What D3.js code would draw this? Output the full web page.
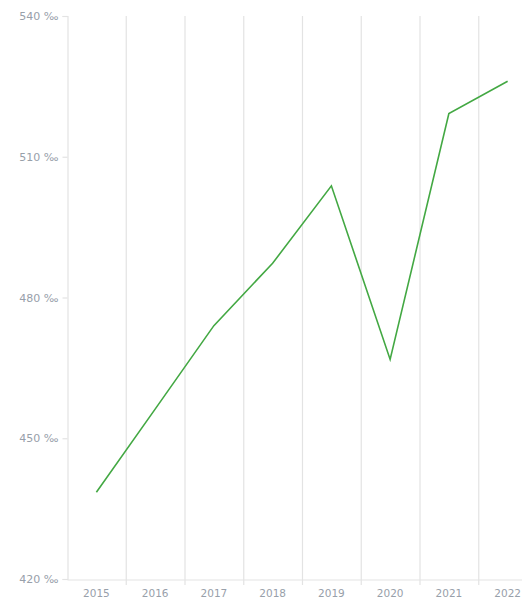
<!DOCTYPE html>
<html>
<head>
<meta charset="utf-8">
<script src="https://cdn.jsdelivr.net/npm/d3@7"></script>
<style>
html,body{margin:0;padding:0;background:#fff;overflow:hidden;}
svg{display:block;}
</style>
</head>
<body>
<svg id="chart" width="522" height="601"></svg>
<script>
const years = ["2015","2016","2017","2018","2019","2020","2021","2022"];
const values = [438.5, 456.2, 474.0, 487.3, 503.8, 466.8, 519.2, 526.1];
const yTicks = [420, 450, 480, 510, 540];

(function () {
const svg = d3.select("#chart");
const mLeft = 67, mRight = 537, mTop = 16, mBottom = 579;
const x = d3.scaleBand().domain(years).range([mLeft, mRight]);
const y = d3.scaleLinear().domain([420, 540]).range([mBottom, mTop]);
const gridColor = "#e3e3e3";
const textColor = "#98a0aa";
const font = "DejaVu Sans, Verdana, sans-serif";

// vertical grid lines at band boundaries
const bounds = years.slice(1).map(d => x(d));
svg.append("g").selectAll("line").data(bounds).join("line")
  .attr("x1", d => d + 0.5).attr("x2", d => d + 0.5)
  .attr("y1", mTop).attr("y2", mBottom + 6)
  .attr("stroke", gridColor).attr("stroke-width", 1.2);

// y axis
const yAxis = d3.axisLeft(y).tickValues(yTicks).tickSize(5).tickPadding(4)
  .tickFormat(d => d + " ‰");
const gy = svg.append("g").attr("transform", `translate(${mLeft + 0.5},0)`).call(yAxis);
gy.select(".domain").attr("stroke", gridColor).attr("stroke-width", 1.2);
gy.selectAll(".tick line").attr("stroke", gridColor).attr("stroke-width", 1.2);
gy.selectAll("text").attr("fill", textColor).attr("font-family", font).attr("font-size", "11px");

// x axis
const xAxis = d3.axisBottom(x).tickSize(0).tickPadding(10);
const gx = svg.append("g").attr("transform", `translate(0,${mBottom + 0.5})`).call(xAxis);
gx.select(".domain").attr("stroke", gridColor).attr("stroke-width", 1.2);
gx.selectAll("text").attr("fill", textColor).attr("font-family", font).attr("font-size", "10.5px");

// line
const line = d3.line().x((d, i) => x(years[i]) + x.bandwidth() / 2).y(d => y(d));
svg.append("path").datum(values)
  .attr("d", line)
  .attr("fill", "none")
  .attr("stroke", "#43a843")
  .attr("stroke-width", 1.6)
  .attr("stroke-linejoin", "miter");
})();
</script>
</body>
</html>
